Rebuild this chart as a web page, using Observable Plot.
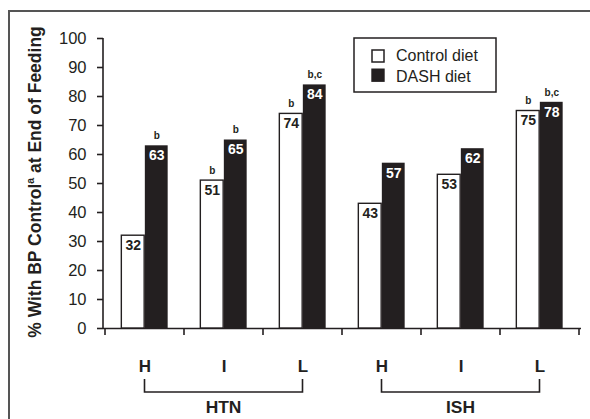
<!DOCTYPE html>
<html>
<head>
<meta charset="utf-8">
<script src="https://cdn.jsdelivr.net/npm/d3@7"></script>
<script src="https://cdn.jsdelivr.net/npm/@observablehq/plot@0.6"></script>
<style>
  html, body { margin: 0; padding: 0; background: #fff; }
  #chart svg { display: block; }
</style>
</head>
<body>
<div id="chart"></div>
<script>
// ---- data ----
const groups = ["HTN", "HTN", "HTN", "ISH", "ISH", "ISH"];
const levels = ["H", "I", "L", "H", "I", "L"];
const controlValues = [32, 51, 74, 43, 53, 75];
const dashValues = [63, 65, 84, 57, 62, 78];
const controlNotes = ["", "b", "b", "", "", "b"];
const dashNotes = ["b", "b", "b,c", "", "", "b,c"];
const yTicks = [0, 10, 20, 30, 40, 50, 60, 70, 80, 90, 100];
const groupNames = ["HTN", "ISH"];
const dietNames = ["Control diet", "DASH diet"];
const yTitle = ["% With BP Control", "a", " at End of Feeding"];

const keys = groups.map((g, i) => g + "-" + levels[i]);
const rows = keys.map((k, i) => ({
  key: k, level: levels[i], group: groups[i],
  control: controlValues[i], dash: dashValues[i],
  cNote: controlNotes[i], dNote: dashNotes[i]
}));
const levelOf = Object.fromEntries(rows.map(r => [r.key, r.level]));

const W = 590, H = 419;
const mL = 103, mR = 9, mT = 38, mB = 91;
const step = (W - mL - mR) / keys.length;
const barW = 23.5;
const ink = "#231f20";
const font = "'Liberation Sans', Arial, Helvetica, sans-serif";

function decor(index, scales, values, dims) {
  const x = scales.x, y = scales.y;
  const bw = (x && x.bandwidth) ? x.bandwidth() : step;
  const g = d3.create("svg:g").attr("font-family", font).attr("fill", "none")
    .attr("text-anchor", "start");
  const y0 = y(0);

  // outer frame (top and left visible)
  g.append("path").attr("d", `M9,419V11H590`).attr("stroke", "#555").attr("stroke-width", 2);

  // y axis line
  g.append("line").attr("x1", dims.marginLeft).attr("x2", dims.marginLeft)
    .attr("y1", y(100)).attr("y2", y0).attr("stroke", ink).attr("stroke-width", 1.6);

  // x boundary ticks
  const bounds = keys.map(k => x(k)).concat([x(keys[keys.length - 1]) + bw]);
  bounds.forEach(bx => {
    g.append("line").attr("x1", bx).attr("x2", bx).attr("y1", y0).attr("y2", y0 + 7)
      .attr("stroke", ink).attr("stroke-width", 1.6);
  });

  // group brackets
  groupNames.forEach(name => {
    const ks = keys.filter((k, i) => groups[i] === name);
    const xa = x(ks[0]) + bw / 2, xb = x(ks[ks.length - 1]) + bw / 2;
    g.append("path").attr("d", `M${xa},${y0 + 51}V${y0 + 64}H${xb}V${y0 + 51}`)
      .attr("stroke", ink).attr("stroke-width", 1.6);
    g.append("text").attr("x", (xa + xb) / 2).attr("y", y0 + 85)
      .attr("text-anchor", "middle").attr("font-weight", "bold").attr("font-size", 17.4)
      .attr("fill", ink).text(name);
  });

  // legend
  const lg = g.append("g");
  lg.append("rect").attr("x", 354).attr("y", 38).attr("width", 142).attr("height", 54)
    .attr("fill", "white").attr("stroke", ink).attr("stroke-width", 1.5);
  lg.append("rect").attr("x", 372).attr("y", 50).attr("width", 12).attr("height", 12)
    .attr("fill", "white").attr("stroke", ink).attr("stroke-width", 1.5);
  lg.append("rect").attr("x", 371.3).attr("y", 68.5).attr("width", 13.4).attr("height", 13.4)
    .attr("fill", ink);
  dietNames.forEach((n, i) => {
    lg.append("text").attr("x", 396).attr("y", 61 + i * 20.5).attr("font-size", 16)
      .attr("text-anchor", "start").attr("fill", ink).text(n);
  });

  // y title
  const t = g.append("text")
    .attr("transform", `translate(41,${(y(100) + y0) / 2 - 1}) rotate(-90)`)
    .attr("text-anchor", "middle").attr("font-weight", "bold").attr("font-size", 17.5)
    .attr("fill", ink);
  t.append("tspan").text(yTitle[0]);
  t.append("tspan").attr("font-size", 10.5).attr("dy", -7).text(yTitle[1]);
  t.append("tspan").attr("dy", 7).text(yTitle[2]);

  return g.node();
}

const plot = Plot.plot({
  width: W, height: H,
  marginLeft: mL, marginRight: mR, marginTop: mT, marginBottom: mB,
  style: { fontFamily: font, fontSize: "16.5px", color: ink, background: "white" },
  x: { type: "band", domain: keys, padding: 0, axis: null },
  y: { domain: [0, 100], axis: null },
  marks: [
    Plot.ruleY([0], { stroke: ink, strokeWidth: 1.6 }),
    Plot.barY(rows, {
      x: "key", y: "control", fill: "white", stroke: ink, strokeWidth: 1.4,
      insetLeft: step / 2 - barW, insetRight: step / 2
    }),
    Plot.barY(rows, {
      x: "key", y: "dash", fill: ink,
      insetLeft: step / 2, insetRight: step / 2 - barW
    }),
    Plot.text(rows, {
      x: "key", y: "control", text: d => String(d.control), dx: -barW / 2, dy: 10,
      fontWeight: "bold", fontSize: 14, fill: ink
    }),
    Plot.text(rows, {
      x: "key", y: "dash", text: d => String(d.dash), dx: barW / 2, dy: 10,
      fontWeight: "bold", fontSize: 14, fill: "white"
    }),
    Plot.text(rows, {
      x: "key", y: "control", text: "cNote", dx: -barW / 2, dy: -10,
      fontWeight: "bold", fontSize: 10, fill: ink
    }),
    Plot.text(rows, {
      x: "key", y: "dash", text: "dNote", dx: barW / 2, dy: -10,
      fontWeight: "bold", fontSize: 10, fill: ink
    }),
    Plot.axisY({
      ticks: yTicks, tickSize: 6, tickPadding: 11, label: null,
      fontSize: 16.5, strokeWidth: 1.6
    }),
    Plot.axisX({
      tickSize: 0, tickPadding: 31, label: null, tickFormat: k => levelOf[k],
      fontSize: 17, fontWeight: "bold"
    }),
    decor
  ]
});
document.getElementById("chart").appendChild(plot);
</script>
</body>
</html>
